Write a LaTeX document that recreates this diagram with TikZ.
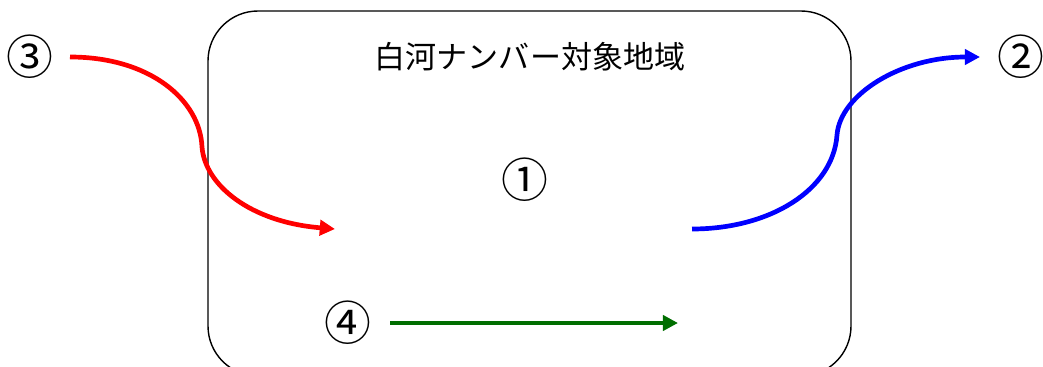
\documentclass[tikz,border=0pt]{standalone}
\usepackage{fontspec}
\newfontfamily\jpfont{Noto Sans CJK JP}
\usetikzlibrary{arrows.meta}
\definecolor{darkgreen}{RGB}{0,110,0}

\begin{document}
\begin{tikzpicture}
    % 样式: 编号结点, 流动箭头
    [x=0.3mm, y=-0.3mm,
    NumNode/.style={font=\jpfont\fontsize{40}{40}\selectfont, inner sep=0pt},
    FlowLine/.style={line width=4pt, -{Triangle[length=13pt, width=13pt]}}]

    \useasboundingbox (0,0) rectangle (1043,367);
    \clip (0,0) rectangle (1043,367);

    % 对象地域的圆角框和标题
    \draw[line width=1.2pt, rounded corners=15mm] (208,11) rectangle (851,376);
    \node[font=\jpfont\fontsize{26.5}{28}\selectfont] (title) at (530,57) {白河ナンバー対象地域};

    % 编号①~④
    \foreach \i/\x/\y/\s in {1/525/180/①, 2/1021/57/②, 3/30/57/③, 4/348/323/④}
    \node[NumNode] (n\i) at (\x,\y) {\s};

    % 箭头的端点
    \coordinate (r_s) at (70,57);
    \coordinate (r_m) at (202,147);
    \coordinate (r_e) at (335,229);
    \coordinate (b_s) at (692,229);
    \coordinate (b_m) at (837,135);
    \coordinate (b_e) at (980,57);
    \coordinate (g_s) at (390,323);
    \coordinate (g_e) at (678,323);

    % ③ -> 地域内 (红)
    \draw[FlowLine, red] (r_s) .. controls (150,57) and (200,100) .. (r_m)
        .. controls (205,185) and (250,222) .. (r_e);
    % 地域内 -> ② (蓝)
    \draw[FlowLine, blue] (b_s) .. controls (770,229) and (833,190) .. (b_m)
        .. controls (840,95) and (900,57) .. (b_e);
    % ④ (绿)
    \draw[FlowLine, darkgreen, line width=3.4pt] (g_s) -- (g_e);

\end{tikzpicture}
\end{document}
